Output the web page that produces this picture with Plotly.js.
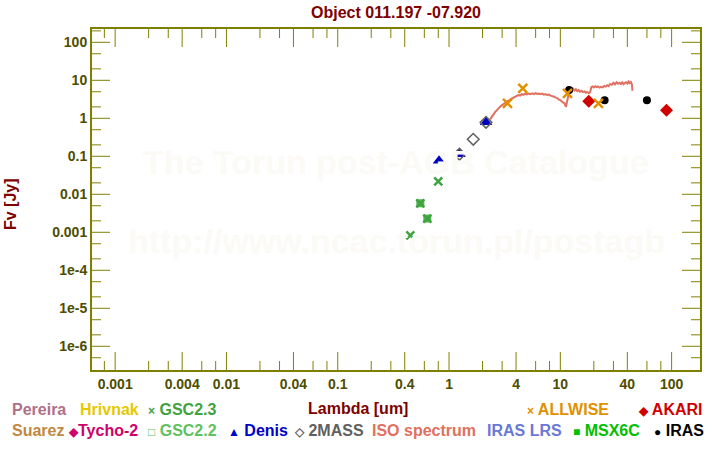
<!DOCTYPE html>
<html>
<head>
<meta charset="utf-8">
<script src="https://cdn.plot.ly/plotly-3.0.1.min.js"></script>
<style>html,body{margin:0;padding:0;background:#fff}#chart{width:720px;height:450px}</style>
</head>
<body>
<div id="chart"></div>
<script>
// ---- data (wavelength in um, flux in Jy) ----
const gsc23X = [0.449, 0.552, 0.638, 0.80];
const gsc23Y = [0.00083, 0.0058, 0.0023, 0.022];
const gsc22X = [0.552, 0.638];
const gsc22Y = [0.0058, 0.0023];
const denisX = [0.813, 1.24, 2.15];
const denisY = [0.0766, 0.113, 0.785];
const massX = [1.24, 1.65, 2.15];
const massY = [0.113, 0.28, 0.785];
const isoX = [2.34,2.42,2.5,2.59,2.68,2.77,2.87,2.97,3.07,3.18,3.3,3.42,3.53,3.65,3.78,3.92,4.05,4.2,4.35,4.5,4.66,4.82,5.0,5.2,5.4,5.6,5.8,6.0,6.2,6.4,6.6,6.85,7.1,7.35,7.6,7.9,8.2,8.5,8.8,9.1,9.4,9.7,10.0,10.3,10.6,10.9,11.1,11.25,11.4,11.6,11.8,12.0,12.2,12.5,12.8,13.1,13.4,13.8,14.2,14.6,15.0,15.5,16.0,16.5,17.0,17.5,18.0,18.5,19.0,19.5,20.0,20.6,21.2,21.8,22.5,23.2,24.0,24.8,25.6,26.4,27.2,28.0,29.0,30.0,31.0,32.0,33.0,34.0,35.0,36.0,37.0,38.0,39.0,40.0,41.0,42.0,43.0,44.0,44.4];
const isoY = [0.94,1.1,1.25,1.45,1.62,1.85,2.0,2.2,2.3,2.5,2.75,2.85,3.05,3.3,3.45,3.75,3.85,4.1,3.95,4.3,4.15,4.45,4.25,4.5,4.3,4.55,4.35,4.6,4.4,4.5,4.3,4.45,4.2,4.35,4.1,4.2,3.95,3.9,3.7,3.5,3.4,3.1,3.0,2.75,2.6,2.45,2.15,2.0,2.5,3.0,4.2,5.0,6.0,5.6,6.2,5.9,5.4,5.8,5.2,5.5,5.0,5.3,4.9,5.1,4.7,4.9,4.6,4.8,6.6,6.9,6.5,7.0,6.6,6.9,6.4,6.7,6.5,7.1,6.8,7.4,7.0,8.0,7.6,8.6,7.8,8.9,8.1,8.6,8.0,8.8,7.9,8.5,8.9,8.2,9.3,8.4,9.0,7.8,5.3];
const irasX = [12, 25, 60];
const irasY = [5.56, 2.98, 2.98];
const akariX = [18, 90];
const akariY = [2.8, 1.62];
const wiseX = [3.35, 4.6, 11.6, 22];
const wiseY = [2.48, 6.16, 4.55, 2.48];

const xMajor = [0.001,0.004,0.01,0.04,0.1,0.4,1,4,10,40,100];
const xMajorText = ["0.001","0.004","0.01","0.04","0.1","0.4","1","4","10","40","100"];
const xMinor = [0.0008,0.002,0.003,0.006,0.008,0.02,0.03,0.06,0.08,0.2,0.3,0.6,0.8,2,3,6,8,20,30,60,80];
const yMajor = [1e-6,1e-5,1e-4,0.001,0.01,0.1,1,10,100];
const yMajorText = ["1e-6","1e-5","1e-4","0.001","0.01","0.1","1","10","100"];
const yMinor = [5e-7,2e-6,5e-6,2e-5,5e-5,2e-4,5e-4,0.002,0.005,0.02,0.05,0.2,0.5,2,5,20,50,200];

const FONT = 'Arial, "Liberation Sans", sans-serif';
const OLIVE = '#808000';
const TICKTXT = '#4d4d00';
const DARKRED = '#800000';

const traces = [
  {x: gsc22X, y: gsc22Y, mode: 'markers', marker: {symbol: 'square', size: 8, color: '#52b552'}},
  {x: gsc23X, y: gsc23Y, mode: 'markers', marker: {symbol: 'x-thin-open', size: 8, color: '#3fa33f', line: {width: 2.5}}},
  {x: denisX, y: denisY, mode: 'markers', marker: {symbol: 'triangle-up', size: 11, color: '#0000c0'}},
  {x: massX, y: massY, mode: 'markers', marker: {symbol: 'diamond-open', size: 9, color: '#606060', line: {width: 1.5}}},
  {x: isoX, y: isoY, mode: 'lines', line: {width: 2, color: '#e07060'}},
  {x: irasX, y: irasY, mode: 'markers', marker: {symbol: 'circle', size: 8, color: '#000000'}},
  {x: akariX, y: akariY, mode: 'markers', marker: {symbol: 'diamond', size: 10, color: '#d00000'}},
  {x: wiseX, y: wiseY, mode: 'markers', marker: {symbol: 'x-thin-open', size: 9, color: '#e09000', line: {width: 2.5}}}
];

const L = 92, R = 700, T = 29, B = 370;
const W = R - L, H = B - T;
const px = v => (v - L) / W;
const py = v => (B - v) / H;

function leg(text, x, y, color) {
  return {text: text, x: px(x), y: py(y), xref: 'paper', yref: 'paper', xanchor: 'left', yanchor: 'middle',
          showarrow: false, font: {family: FONT, size: 16, color: color, weight: 'bold'}};
}
const sym = s => '<span style="font-size:12px">' + s + '</span>';

const annotations = [
  {text: 'The Torun post-AGB Catalogue', x: 0.5, y: py(162), xref: 'paper', yref: 'paper', showarrow: false,
   font: {family: FONT, size: 34, color: '#fbfaf6', weight: 'bold'}},
  {text: 'http://www.ncac.torun.pl/postagb', x: 0.5, y: py(262), xref: 'paper', yref: 'paper', showarrow: false,
   font: {family: FONT, size: 34, color: '#fbfaf6', weight: 'bold'}},
  {text: 'Lambda [um]', x: px(358), y: py(409), xref: 'paper', yref: 'paper', showarrow: false, xanchor: 'center', yanchor: 'middle',
   font: {family: FONT, size: 16, color: DARKRED, weight: 'bold'}},
  {text: 'Fv [Jy]', x: px(10), y: py(204), xref: 'paper', yref: 'paper', showarrow: false, textangle: -90, xanchor: 'center', yanchor: 'middle',
   font: {family: FONT, size: 16, color: DARKRED, weight: 'bold'}},
  leg('Pereira', 10, 410, '#b07088'),
  leg('Hrivnak', 78, 410, '#e6c800'),
  leg(sym('×') + ' GSC2.3', 146, 410, '#3fa33f'),
  leg(sym('×') + ' ALLWISE', 525, 410, '#e09000'),
  leg(sym('◆') + ' AKARI', 636, 410, '#d00000'),
  leg('Suarez', 10, 430, '#c08840'),
  leg(sym('◆') + 'Tycho-2', 66, 430, '#d0006a'),
  leg(sym('□') + ' GSC2.2', 146, 430, '#5fc25f'),
  leg(sym('▲') + ' Denis', 226, 430, '#0000c8'),
  leg(sym('◇') + ' 2MASS', 292, 430, '#606060'),
  leg('ISO spectrum', 370, 430, '#e07060'),
  leg('IRAS LRS', 485, 430, '#6a78d6'),
  leg(sym('■') + ' MSX6C', 571, 430, '#00c000'),
  leg(sym('●') + ' IRAS', 652, 430, '#000000')
];

// inward tick marks on all four sides, placed through the axis scales (x/y refs)
const shapes = [];
function xTick(v, len) {
  const f = len / H;
  shapes.push({type: 'line', xref: 'x', yref: 'paper', x0: v, x1: v, y0: 0, y1: f, layer: 'above', line: {color: OLIVE, width: 1}});
  shapes.push({type: 'line', xref: 'x', yref: 'paper', x0: v, x1: v, y0: 1, y1: 1 - f, layer: 'above', line: {color: OLIVE, width: 1}});
}
function yTick(v, len) {
  const f = len / W;
  shapes.push({type: 'line', xref: 'paper', yref: 'y', x0: 0, x1: f, y0: v, y1: v, layer: 'above', line: {color: OLIVE, width: 1}});
  shapes.push({type: 'line', xref: 'paper', yref: 'y', x0: 1, x1: 1 - f, y0: v, y1: v, layer: 'above', line: {color: OLIVE, width: 1}});
}
xMajor.forEach(v => xTick(v, 18));
xMinor.forEach(v => xTick(v, 9));
yMajor.forEach(v => yTick(v, 18));
yMinor.forEach(v => yTick(v, 9));

const layout = {
  width: 720, height: 450,
  margin: {l: L, r: 720 - R, t: T, b: 450 - B},
  showlegend: false,
  title: {text: 'Object 011.197 -07.920', x: 0.5, xref: 'paper', y: 1 - 12 / 450, yref: 'container', yanchor: 'middle',
          font: {family: FONT, size: 16, color: DARKRED, weight: 'bold'}},
  xaxis: {type: 'log', range: [-3.208, 2.255], tickmode: 'array', tickvals: xMajor, ticktext: xMajorText,
          ticks: '', showline: true, linecolor: OLIVE, linewidth: 2, mirror: true, showgrid: false, zeroline: false,
          tickfont: {family: FONT, size: 14, color: TICKTXT, weight: 'bold'}},
  yaxis: {type: 'log', range: [-6.624, 2.35], tickmode: 'array', tickvals: yMajor, ticktext: yMajorText,
          ticks: '', showline: true, linecolor: OLIVE, linewidth: 2, mirror: true, showgrid: false, zeroline: false,
          tickfont: {family: FONT, size: 14, color: TICKTXT, weight: 'bold'}},
  shapes: shapes,
  annotations: annotations
};

Plotly.newPlot('chart', traces, layout, {staticPlot: true});
</script>
</body>
</html>
